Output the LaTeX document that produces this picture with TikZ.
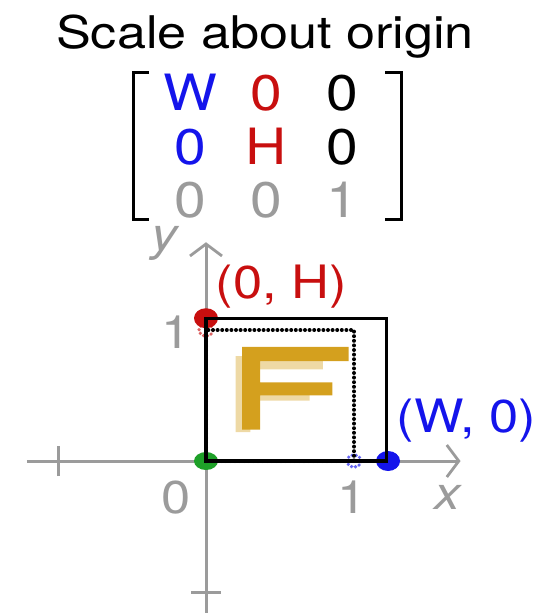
\documentclass[tikz,border=0pt]{standalone}
\usepackage{fontspec}
\setmainfont{TeX Gyre Heros}
\usetikzlibrary{positioning,arrows.meta,matrix}
\definecolor{mblue}{RGB}{20,20,235}
\definecolor{mred}{RGB}{200,15,15}
\definecolor{mgray}{RGB}{155,155,155}
\definecolor{fgold}{RGB}{212,160,30}
\definecolor{mgreen}{RGB}{30,160,40}
\newcommand{\Fshape}{(0.2,0.22) -- (0.3,0.22) -- (0.3,0.46) -- (0.70,0.46) -- (0.70,0.55) -- (0.3,0.55) -- (0.3,0.70) -- (0.79,0.70) -- (0.79,0.80) -- (0.2,0.80) -- cycle}
\newcommand{\wide}[1]{\scalebox{1.14}[1]{#1}}

\begin{document}
\begin{tikzpicture}[x=1pt, y=-1pt, every node/.style={inner sep=0pt},
  big/.style={font=\fontsize{46}{54}\selectfont},
  axis/.style={mgray, line width=3pt},
  axtip/.style={-{Straight Barb[length=12pt,width=32pt,line width=2.8pt]}},
  ghostdot/.style={dash pattern=on 0pt off 4pt, line cap=round, line width=3.6pt, opacity=.65}]
\useasboundingbox (0,0) rectangle (542,613);
% --- title and matrix ---
\node[font=\fontsize{45}{54}\selectfont, anchor=base] (title) at (265,48) {\scalebox{1.16}[1]{Scale about origin}};
\matrix (M) [matrix of nodes, nodes={font=\fontsize{50}{58}\selectfont, minimum width=76pt, minimum height=53.5pt, text height=36pt, text depth=0pt},
  column sep=0pt, row sep=0pt] at (266,146) {
  |[mblue]| \wide{W} & |[mred]| \wide{0} & \wide{0} \\
  |[mblue]| \wide{0} & |[mred]| \wide{H} & \wide{0} \\
  |[mgray]| \wide{0} & |[mgray]| \wide{0} & |[mgray]| \wide{1} \\
};
\draw[line width=3pt] (149,72) -- (133,72) -- (133,219) -- (149,219);
\draw[line width=3pt] (385,72) -- (401,72) -- (401,219) -- (385,219);
% --- axes, origin at (206,461) ---
\begin{scope}[shift={(206,461)}, x=148pt, y=131pt]
\coordinate (xl) at (-1.21,0);
\coordinate (xr) at (1.72,0);
\coordinate (yb) at (0,-1.16);
\coordinate (yt) at (0,1.67);
\draw[axis, axtip] (xl) -- (xr);
\draw[axis, axtip] (yb) -- (yt);
\draw[axis] (-1,-0.115) -- (-1,0.115);
\draw[axis] (-0.1,-1) -- (0.1,-1);
\node[big, mgray] (n0) at (-0.2,-0.28) {\wide{0}};
\node[big, mgray] (nx1) at (0.99,-0.28) {\wide{1}};
\node[big, mgray] (ny1) at (-0.2,0.98) {\wide{1}};
\node[big, mgray] (xlab) at (1.63,-0.28) {\wide{\itshape x}};
\node[big, mgray] (ylab) at (-0.28,1.66) {\wide{\itshape y}};
% F before and after
\fill[fgold, opacity=.4] \Fshape;
\fill[fgold, xscale=1.22, yscale=1.09] \Fshape;
% points
\fill[mgreen] (0,0) ellipse [x radius=12pt, y radius=9pt];
\fill[mred] (0,1.09) ellipse [x radius=12pt, y radius=10pt];
\fill[mblue] (1.23,0) ellipse [x radius=12pt, y radius=10pt];
\draw[mred, ghostdot] (0,1) ellipse [x radius=7pt, y radius=6pt];
\draw[mblue, ghostdot] (1,0) ellipse [x radius=7pt, y radius=6pt];
% unit square and scaled square
\draw[line width=4pt, dash pattern=on 0pt off 4.6pt, line cap=round] (0,0) rectangle (1,1);
\draw[line width=3.4pt] (0,0) rectangle (1.22,1.09);
\node[big, mred] (lblH) at (0.51,1.33) {\wide{(0, H)}};
\node[big, mblue] (lblW) at (1.76,0.31) {\wide{(W, 0)}};
\end{scope}
\end{tikzpicture}
\end{document}
